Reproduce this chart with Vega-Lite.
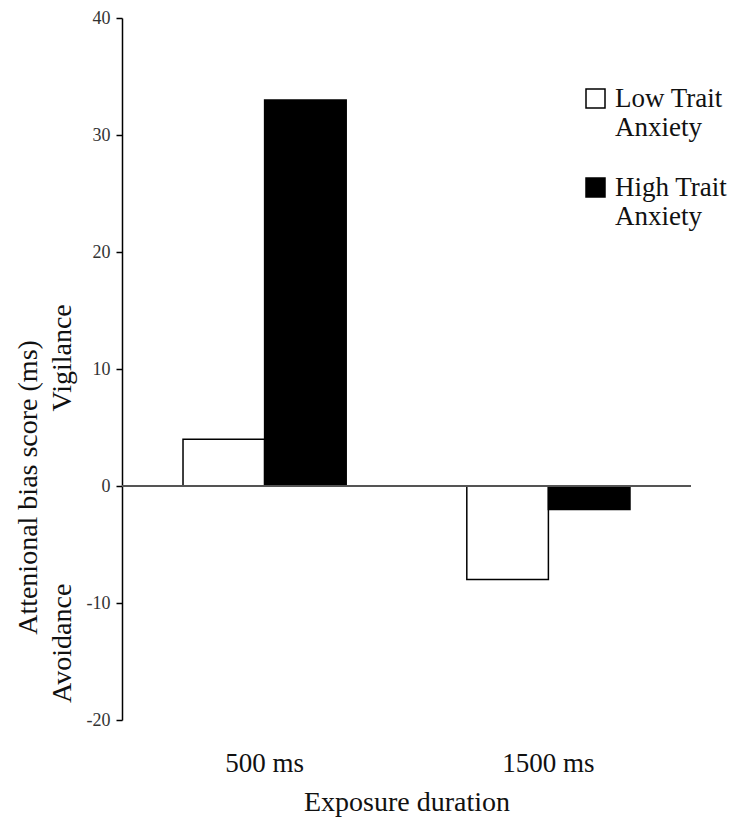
{
  "$schema": "https://vega.github.io/schema/vega-lite/v6.json",
  "autosize": {"type": "none"},
  "padding": {"left": 122, "top": 18, "right": 43, "bottom": 97},
  "width": 569,
  "height": 702,
  "background": "white",
  "config": {
    "view": {"stroke": null},
    "font": "Liberation Serif",
    "axis": {"grid": false}
  },
  "data": {
    "values": [
      {"duration": "500 ms", "group": "Low Trait Anxiety", "score": 4},
      {"duration": "500 ms", "group": "High Trait Anxiety", "score": 33},
      {"duration": "1500 ms", "group": "Low Trait Anxiety", "score": -8},
      {"duration": "1500 ms", "group": "High Trait Anxiety", "score": -2}
    ]
  },
  "resolve": {"axis": {"y": "independent"}},
  "layer": [
    {
      "mark": {"type": "bar", "stroke": "black", "strokeWidth": 1.5},
      "encoding": {
        "x": {
          "field": "duration",
          "type": "nominal",
          "sort": ["500 ms", "1500 ms"],
          "scale": {"paddingInner": 0.425, "paddingOuter": 0.215},
          "axis": {
            "title": "Exposure duration",
            "domain": false,
            "ticks": false,
            "labelAngle": 0,
            "labelFont": "Liberation Serif",
            "labelFontSize": 27,
            "labelColor": "#111",
            "labelPadding": 30,
            "titleFont": "Liberation Serif",
            "titleFontSize": 28,
            "titleFontWeight": "normal",
            "titleColor": "#111",
            "titlePadding": 12
          }
        },
        "xOffset": {"field": "group", "type": "nominal", "sort": ["Low Trait Anxiety", "High Trait Anxiety"], "scale": {"paddingInner": 0, "paddingOuter": 0}},
        "y": {
          "field": "score",
          "type": "quantitative",
          "scale": {"domain": [-20, 40], "nice": false, "zero": false},
          "axis": {
            "orient": "left",
            "values": [-20, -10, 0, 10, 20, 30, 40],
            "labelExpr": "replace(datum.label, '\u2212', '-')",
            "title": null,
            "domainColor": "black",
            "domainWidth": 1.5,
            "tickColor": "black",
            "tickWidth": 1.5,
            "tickSize": 6,
            "labelFont": "Liberation Serif",
            "labelFontSize": 18,
            "labelColor": "#333",
            "labelPadding": 6,
            "labelFlush": false,
            "labelOverlap": false
          }
        },
        "fill": {
          "field": "group",
          "type": "nominal",
          "sort": ["Low Trait Anxiety", "High Trait Anxiety"],
          "scale": {"domain": ["Low Trait Anxiety", "High Trait Anxiety"], "range": ["white", "black"]},
          "legend": {
            "title": null,
            "orient": "none",
            "legendX": 460,
            "legendY": 67,
            "padding": 0,
            "symbolType": "square",
            "symbolSize": 361,
            "symbolStrokeColor": "black",
            "symbolStrokeWidth": 1.5,
            "symbolOpacity": 1,
            "labelExpr": "datum.label == 'Low Trait Anxiety' ? ['Low Trait', 'Anxiety'] : ['High Trait', 'Anxiety']",
            "labelFont": "Liberation Serif",
            "labelFontSize": 27,
            "labelLineHeight": 31,
            "labelColor": "#111",
            "labelOffset": 6,
            "labelBaseline": "middle",
            "labelLimit": 300,
            "rowPadding": 32
          }
        }
      }
    },
    {
      "mark": {"type": "rule", "color": "#555", "strokeWidth": 1.5},
      "encoding": {
        "y": {
          "datum": 0,
          "type": "quantitative",
          "axis": {
            "orient": "left",
            "offset": 32,
            "values": [11, -13.4],
            "labelExpr": "datum.value > 0 ? 'Vigilance' : 'Avoidance'",
            "labelAngle": -90,
            "labelAlign": "center",
            "labelBaseline": "bottom",
            "domain": false,
            "ticks": false,
            "labelFont": "Liberation Serif",
            "labelFontSize": 28,
            "labelColor": "#111",
            "labelPadding": 14,
            "labelFlush": false,
            "labelOverlap": false,
            "title": "Attenional bias score (ms)",
            "titleFont": "Liberation Serif",
            "titleFontSize": 28,
            "titleFontWeight": "normal",
            "titleColor": "#111",
            "titlePadding": 6,
            "titleY": 469
          }
        }
      }
    }
  ]
}
